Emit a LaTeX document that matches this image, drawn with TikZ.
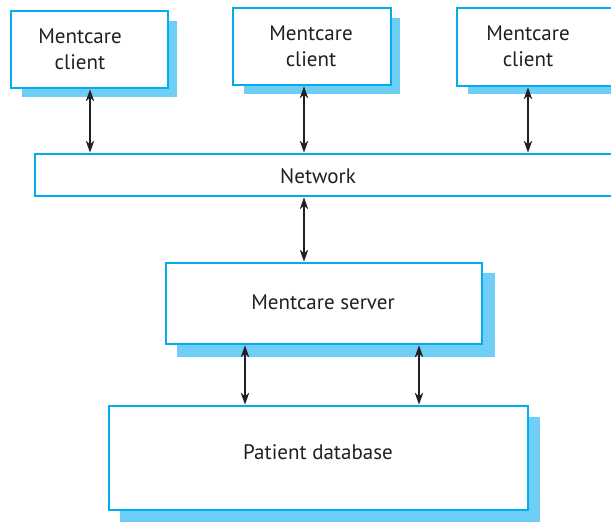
\documentclass[tikz,border=0pt]{standalone}
\usepackage{fontspec}
\setmainfont{PT Sans}
\usetikzlibrary{arrows.meta,backgrounds}
\definecolor{boxline}{RGB}{0,174,239}
\definecolor{boxshadow}{RGB}{110,206,245}
\definecolor{txt}{RGB}{35,31,32}
\tikzset{
  box/.style={draw=boxline, line width=2.8pt, fill=white, rectangle, inner sep=0pt,
    align=center, text=txt, font=\fontsize{21}{26}\selectfont},
  lbl/.style={text=txt, align=center, font=\fontsize{21}{26}\selectfont},
  biarrow/.style={{Stealth[length=12pt,width=8.5pt]}-{Stealth[length=12pt,width=8.5pt]}, line width=1.2pt, draw=txt}
}
\begin{document}
\begin{tikzpicture}[x=1pt,y=-1pt]
\useasboundingbox (0,0) rectangle (611,522);
\clip (0,0) rectangle (611,522);
% boxes (positions in px of the reference)
\node[box, minimum width=157pt, minimum height=77pt] (c1) at (89.5,49.5) {};
\node[box, minimum width=158pt, minimum height=77pt] (c2) at (312,46.5) {};
\node[box, minimum width=158pt, minimum height=78pt] (c3) at (536,47) {};
\node[box, minimum width=640pt, minimum height=42pt] (net) at (355,175) {};
\node[box, minimum width=316pt, minimum height=81pt] (srv) at (324,303.5) {};
\node[box, minimum width=419pt, minimum height=104pt] (db) at (318.5,458) {};
% shadows
\begin{scope}[on background layer]
\fill[boxshadow] ([shift={(12,11)}]c1.north west) rectangle ([shift={(8,8)}]c1.south east);
\fill[boxshadow] ([shift={(12,11)}]c2.north west) rectangle ([shift={(8,8)}]c2.south east);
\fill[boxshadow] ([shift={(12,11)}]c3.north west) rectangle ([shift={(8,7)}]c3.south east);
\fill[boxshadow] ([shift={(12,11)}]srv.north west) rectangle ([shift={(12,12)}]srv.south east);
\fill[boxshadow] ([shift={(12,12)}]db.north west) rectangle ([shift={(11,11)}]db.south east);
\end{scope}
% texts
\node[lbl] (t1) at (80,49) {Mentcare\\client};
\node[lbl] (t2) at (311,46) {Mentcare\\client};
\node[lbl] (t3) at (528,46) {Mentcare\\client};
\node[lbl] (tn) at (318,176) {Network};
\node[lbl] (ts) at (323,302) {Mentcare server};
\node[lbl] (td) at (318,452) {Patient database};
% connectors
\draw[biarrow] ([xshift=0.5]c1.south) -- ([xshift=0.5]c1.south |- net.north);
\draw[biarrow] ([xshift=-8]c2.south) -- ([xshift=-8]c2.south |- net.north);
\draw[biarrow] ([xshift=-8]c3.south) -- ([xshift=-8]c3.south |- net.north);
\draw[biarrow] ([xshift=-20]srv.north |- net.south) -- ([xshift=-20]srv.north);
\draw[biarrow] ([xshift=-73.5]db.north |- srv.south) -- ([xshift=-73.5]db.north);
\draw[biarrow] ([xshift=100.5]db.north |- srv.south) -- ([xshift=100.5]db.north);
\end{tikzpicture}
\end{document}
